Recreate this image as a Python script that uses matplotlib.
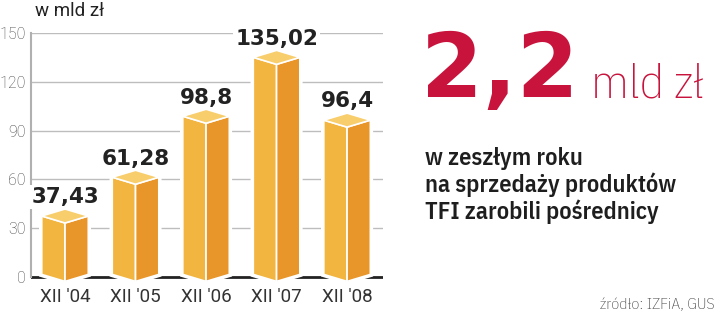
import matplotlib.pyplot as plt
from matplotlib.patches import Polygon

years = ["XII '04", "XII '05", "XII '06", "XII '07", "XII '08"]
values = [37.43, 61.28, 98.8, 135.02, 96.4]
labels = ["37,43", "61,28", "98,8", "135,02", "96,4"]
yticks = [0, 30, 60, 90, 120, 150]

c_left = '#f2b540'
c_right = '#e8962a'
c_top = '#f8cd6c'
red = '#c8133c'
cond = ['IBM Plex Sans Condensed', 'Roboto', 'DejaVu Sans']

fig = plt.figure(figsize=(7.2, 3.14), dpi=100)
ax = fig.add_axes([0.0431, 0.0924, 0.4889, 0.8025])
ax.set_xlim(-0.482, 4.51)
ax.set_ylim(-5, 150)
for s in ax.spines.values():
    s.set_visible(False)

# grid and axis lines
for t in yticks[1:]:
    ax.axhline(t, color='#bdbdbd', lw=1, zorder=1)
ax.axhline(0, color='#222222', lw=2, zorder=1)
ax.plot([-0.482, -0.482], [0, 150], color='#b0b0b0', lw=1.5, zorder=1, clip_on=False)

ax.set_yticks(yticks)
ax.set_yticklabels([str(t) for t in yticks], fontsize=11.5, color='#444444',
                   fontfamily='Roboto', fontweight='light')
ax.set_xticks(range(len(years)))
ax.set_xticklabels(years, fontsize=13.5, color='#333333', fontfamily='Roboto')
ax.tick_params(length=0)
ax.tick_params(axis='y', pad=4)
ax.tick_params(axis='x', pad=2)

# pseudo-3D bars
w = 0.33
d = 4.3
b0 = 1.5
for i, v in enumerate(values):
    left = [(i - w, b0), (i - w, v), (i, v - d), (i, b0 - d)]
    right = [(i, b0 - d), (i, v - d), (i + w, v), (i + w, b0)]
    top = [(i - w, v), (i, v + d), (i + w, v), (i, v - d)]
    outline = [(i - w, b0), (i - w, v), (i, v + d), (i + w, v), (i + w, b0), (i, b0 - d)]
    ax.add_patch(Polygon(outline, closed=True, facecolor='white', edgecolor='white',
                         lw=4, zorder=2, clip_on=False))
    for pts, c in ((left, c_left), (right, c_right), (top, c_top)):
        ax.add_patch(Polygon(pts, closed=True, facecolor=c, edgecolor='white',
                             lw=1.2, joinstyle='round', zorder=3, clip_on=False))
    ax.text(i, v + d + 3.5, labels[i], ha='center', va='baseline', fontsize=15.5,
            fontweight='bold', color='#222222', zorder=4,
            bbox=dict(facecolor='white', edgecolor='none', pad=1.5))

fig.text(35 / 720, 1 - 11 / 314, 'w mld zł', fontsize=13.5, fontfamily='Roboto',
         color='#222222', ha='left', va='center')

fig.text(421 / 720, 1 - 97 / 314, '2,2', fontsize=64, fontweight='bold',
         color=red, ha='left', va='baseline')
fig.text(591 / 720, 1 - 97 / 314, 'mld zł', fontsize=34.5, fontfamily=cond,
         fontweight='light', color=red, ha='left', va='baseline')

lines = ['w zeszłym roku', 'na sprzedaży produktów', 'TFI zarobili pośrednicy']
for k, ln in enumerate(lines):
    fig.text(425 / 720, 1 - (158 + 27 * k) / 314, ln, fontsize=17.5, fontfamily=cond,
             fontweight='semibold', color='#1e1e1e', ha='left', va='center')

fig.text(715 / 720, 1 - 305 / 314, 'źródło: IZFiA, GUS', fontsize=11.5,
         fontfamily=cond, fontweight='light', color='#444444', ha='right', va='center')

fig.savefig('out.png', dpi=100)
